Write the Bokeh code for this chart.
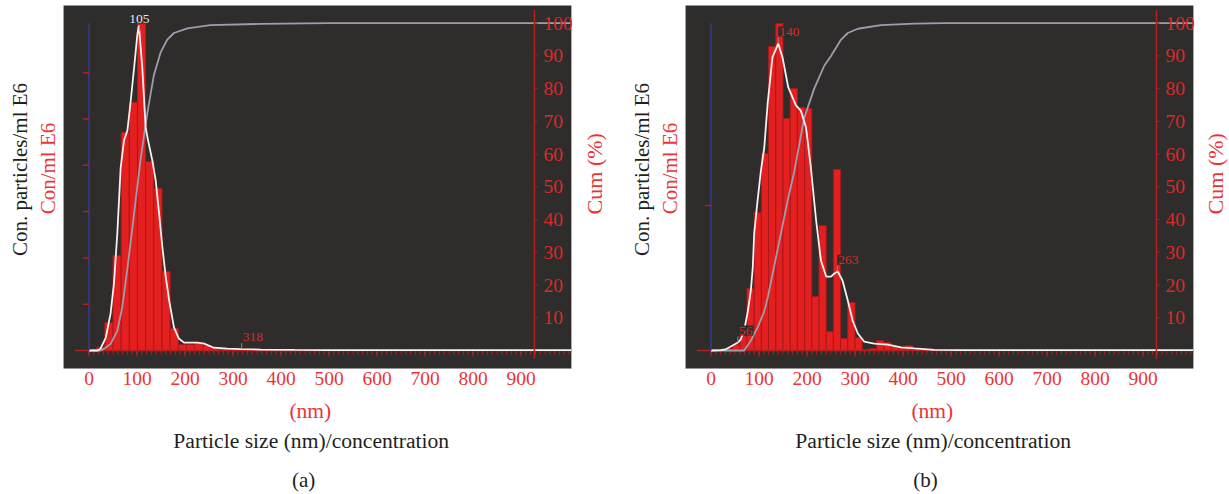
import numpy as np
from bokeh.plotting import figure
from bokeh.models import Range1d, BoxAnnotation
from bokeh.layouts import row
from bokeh.embed import file_html
from bokeh.resources import INLINE
from bokeh.core.properties import value

# ---------------- data ----------------
x_ticks = [0, 100, 200, 300, 400, 500, 600, 700, 800, 900]
cum_ticks = [10, 20, 30, 40, 50, 60, 70, 80, 90, 100]

# Panel (a): histogram (bin centres in nm, concentration in arbitrary E6 units)
a_bin_width = 17
a_bin_centers = [24.5, 41.5, 58.5, 75.5, 92.5, 109.5, 126.5, 143.5, 160.5, 177.5,
                 194.5, 211.5, 228.5, 245.5, 262.5, 279.5, 296.5, 313.5, 330.5, 398.5]
a_conc = [0.07, 0.60, 2.05, 4.71, 5.36, 7.06, 4.08, 3.50, 1.71, 0.48,
          0.13, 0.13, 0.17, 0.11, 0.06, 0.04, 0.02, 0.02, 0.03, 0.02]
a_curve_x = [0, 18, 24, 35, 45, 52, 59, 66, 73, 80, 87, 94, 101, 104, 111, 118, 123,
             132, 139, 146, 153, 160, 167, 177, 187, 198, 226, 240, 260, 288, 318,
             358, 427, 500, 1005]
a_curve_y = [0, 0, 0.04, 0.28, 0.80, 1.45, 2.53, 3.95, 4.54, 4.75, 5.40, 6.11, 6.85,
             7.02, 6.11, 4.82, 4.54, 4.10, 3.67, 2.96, 2.22, 1.58, 1.08, 0.50, 0.26,
             0.17, 0.17, 0.15, 0.06, 0.04, 0.03, 0.02, 0.013, 0.01, 0.01]
a_cum_x = [0, 24, 31, 45, 59, 69, 80, 94, 108, 122, 135, 149, 163, 177, 205, 253, 358, 498, 1005]
a_cum_y = [0, 0, 0.5, 2, 6, 13, 25, 42, 59, 73, 84, 91, 95, 97, 98.4, 99.4, 99.8, 100, 100]
a_conc_ticks = [1, 2, 3, 4, 5, 6]
a_peaks = [105, 318]

# Panel (b)
b_bin_width = 15
b_bin_centers = [37.5, 52.5, 67.5, 82.5, 97.5, 112.5, 127.5, 142.5, 157.5, 172.5,
                 187.5, 202.5, 217.5, 232.5, 247.5, 262.5, 277.5, 292.5, 307.5, 322.5,
                 337.5, 352.5, 367.5, 382.5, 397.5, 412.5, 427.5]
b_conc = [0.014, 0.041, 0.103, 0.428, 0.952, 1.359, 2.097, 2.255, 1.600, 1.807,
          1.676, 1.669, 0.372, 0.862, 0.131, 1.248, 0.083, 0.331, 0.090, 0.007,
          0.014, 0.069, 0.055, 0.028, 0.021, 0.034, 0.014]
b_curve_x = [0, 20, 30, 45, 56, 62, 69, 76, 83, 87, 90, 97, 104, 111, 118, 128, 140,
             149, 161, 177, 187, 198, 208, 219, 229, 240, 250, 257, 264, 274, 285,
             295, 306, 319, 340, 368, 396, 424, 465, 520, 1005]
b_curve_y = [0, 0.002, 0.007, 0.034, 0.055, 0.076, 0.138, 0.255, 0.414, 0.572, 0.807,
             1.034, 1.241, 1.40, 1.703, 2.021, 2.117, 2.021, 1.814, 1.69, 1.655, 1.538,
             1.262, 0.897, 0.621, 0.51, 0.51, 0.531, 0.545, 0.483, 0.345, 0.207,
             0.117, 0.062, 0.048, 0.041, 0.021, 0.014, 0.005, 0.003, 0.003]
b_cum_x = [0, 69, 83, 97, 111, 118, 132, 146, 160, 174, 194, 215, 236, 250, 271, 285,
           306, 354, 424, 486, 1005]
b_cum_y = [0, 0, 3, 7, 12, 16, 26, 36, 46, 55, 71, 80, 87, 90, 95, 97, 98.3, 99.4,
           99.9, 100, 100]
b_conc_ticks = [1]
b_peaks = [56, 140, 263]

# ---------------- style ----------------
FONT = value("Liberation Serif")
BG = "#2f2d2c"
BAR = "#e3201f"
BAR_EDGE = "#a81a1a"
RED_AX = "#b81e1e"
RED_TXT = "#d82a2a"
RED_OUT = "#ea3437"
BLACK = "#231f20"
WHITE_CURVE = "#f2f2f2"
GREY_CURVE = "#9d9dab"
BLUE = "#363a8c"
MARK = "#8c8c8c"

PX_PER_NM = 0.48
PX_PER_PCT = 3.273
ZERO_Y = 350          # pixel row of the baseline
H = 494
DARK = dict(left=-53, right=1005, bottom=-5.5, top=105.4)   # plot area (nm, %)
RIGHT_AXIS_X = 928


def make_panel(letter, fig_w, zero_x, centers, width, conc, cx, cy, kx, ky,
               conc_ticks, conc_px, peaks, peak_colors, peak_aligns, peak_bg,
               cum_label_x):
    x_rng = Range1d(-zero_x / PX_PER_NM, (fig_w - zero_x) / PX_PER_NM)
    y_rng = Range1d(-(H - ZERO_Y) / PX_PER_PCT, ZERO_Y / PX_PER_PCT)
    p = figure(width=fig_w, height=H, x_range=x_rng, y_range=y_rng,
               output_backend="svg", toolbar_location=None,
               x_axis_location=None, y_axis_location=None, min_border=0,
               background_fill_color="white", border_fill_color="white",
               outline_line_color=None)
    p.extra_y_ranges = {"conc": Range1d(-(H - ZERO_Y) / conc_px, ZERO_Y / conc_px)}
    p.grid.visible = False

    # dark plot area
    p.add_layout(BoxAnnotation(fill_color=BG, fill_alpha=1, line_color=None,
                               level="underlay", **DARK))

    # histogram
    p.vbar(x=centers, top=conc, width=width, y_range_name="conc",
           fill_color=BAR, line_color=BAR_EDGE, line_width=1)

    # baseline + minor ticks
    p.segment(x0=[-29], y0=[0], x1=[DARK["right"]], y1=[0], line_color=RED_AX,
              line_width=1.5)
    minor = np.arange(0, 1001, 10)
    p.ray(x=minor, y=np.zeros(len(minor)), length=4, length_units="screen",
          angle=-np.pi / 2, line_color=RED_AX, line_width=1)
    p.ray(x=x_ticks, y=[0] * len(x_ticks), length=6, length_units="screen",
          angle=-np.pi / 2, line_color=RED_AX, line_width=1)

    # curves
    p.line(kx, ky, line_color=GREY_CURVE, line_width=1.8)
    p.line(cx, cy, y_range_name="conc", line_color=WHITE_CURVE, line_width=1.8)

    # left (concentration) axis
    p.segment(x0=[0], y0=[0], x1=[0], y1=[100], line_color=BLUE, line_width=1.5)
    p.ray(x=[0] * len(conc_ticks), y=conc_ticks, y_range_name="conc", length=6,
          length_units="screen", angle=np.pi, line_color=RED_AX, line_width=1.5)

    # right (cumulative) axis
    p.segment(x0=[RIGHT_AXIS_X], y0=[-2.5], x1=[RIGHT_AXIS_X], y1=[104],
              line_color=RED_AX, line_width=1.5)
    p.ray(x=[RIGHT_AXIS_X] * len(cum_ticks), y=cum_ticks, length=3,
          length_units="screen", angle=0, line_color=RED_AX, line_width=1)
    p.text(x=[RIGHT_AXIS_X] * len(cum_ticks), y=cum_ticks,
           text=[str(t) for t in cum_ticks], x_offset=9,
           text_font=FONT, text_font_size="19.5px", text_color=RED_TXT,
           text_align="left", text_baseline="middle")

    # x tick labels (below the plot area)
    p.text(x=x_ticks, y=[-8.7] * len(x_ticks), text=[str(t) for t in x_ticks],
           text_font=FONT, text_font_size="19.5px", text_color=RED_OUT,
           text_align="center", text_baseline="middle")

    # peak labels with small connector marks
    py = [float(np.interp(pk, cx, cy)) for pk in peaks]
    p.ray(x=peaks, y=py, y_range_name="conc", length=6, length_units="screen",
          angle=np.pi / 2, line_color=MARK, line_width=1)
    for pk, yy, col, al in zip(peaks, py, peak_colors, peak_aligns):
        p.text(x=[pk], y=[yy], text=[str(pk)], y_range_name="conc", y_offset=-12,
               text_font=FONT, text_font_size="13.5px", text_color=col,
               text_align=al, text_baseline="middle",
               background_fill_color=peak_bg, padding=1)

    # axis titles (as text glyphs, serif)
    def lab(text, x, y, color, size, angle=0.0):
        p.text(x=[x], y=[y], text=[text], text_color=color, text_font=FONT,
               text_font_size=size, text_align="center", text_baseline="middle",
               angle=angle)

    lab("Con. particles/ml E6", -143, 55.3, BLACK, "21px", np.pi / 2)
    lab("Con/ml E6", -84.5, 55.6, RED_OUT, "21px", np.pi / 2)
    lab("Cum (%)", cum_label_x, 54, RED_OUT, "22px", np.pi / 2)
    lab("(nm)", 461, -18.6, RED_OUT, "21.5px")
    lab("Particle size (nm)/concentration", 463, -27.8, BLACK, "21.6px")
    lab("(" + letter + ")", 447, -39.6, BLACK, "21px")
    return p


pa = make_panel("a", 620, 88.5, a_bin_centers, a_bin_width, a_conc, a_curve_x,
                a_curve_y, a_cum_x, a_cum_y, a_conc_ticks, 46.3,
                a_peaks, ["#e6e6e6", RED_TXT], ["center", "left"], None, 1053)
pb = make_panel("b", 609, 90.5, b_bin_centers, b_bin_width, b_conc, b_curve_x,
                b_curve_y, b_cum_x, b_cum_y, b_conc_ticks, 145,
                b_peaks, [RED_TXT, RED_TXT, RED_TXT], ["left", "left", "left"], BG,
                1052)

layout = row(pa, pb)
open("out.html", "w").write(file_html(layout, INLINE))
